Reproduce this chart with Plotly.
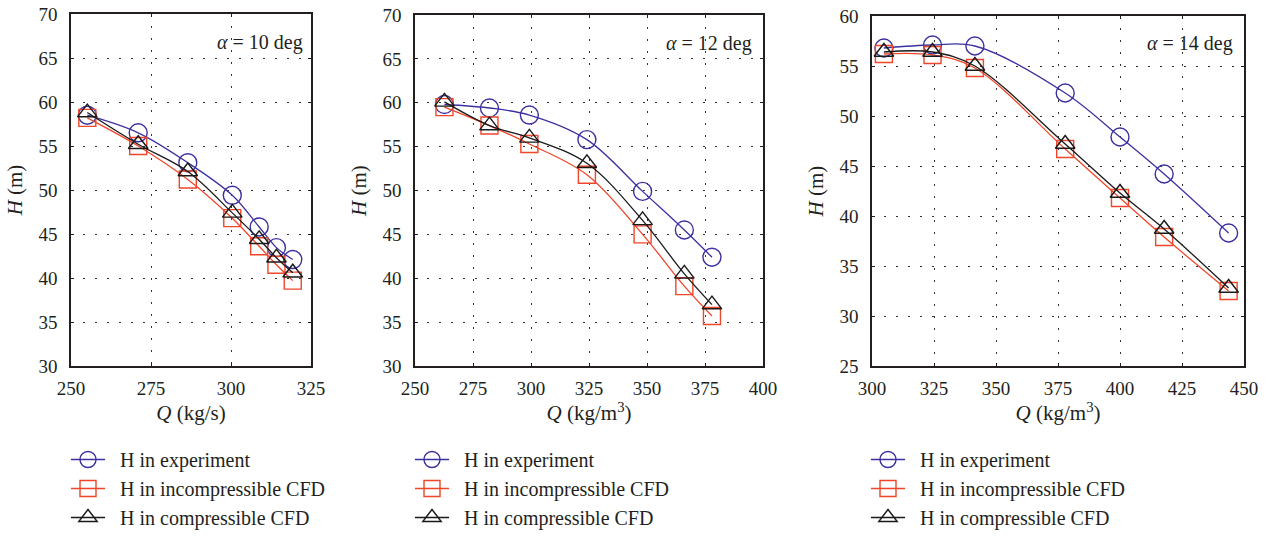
import plotly.graph_objects as go

# Flow rate Q and head H for three inlet guide-vane angles
q_10 = [255.1, 271.0, 286.5, 300.4, 308.8, 314.2, 319.3]
h_10_exp = [58.5, 56.5, 53.1, 49.4, 45.8, 43.45, 42.1]
h_10_inc = [58.2, 55.0, 51.2, 46.8, 43.6, 41.5, 39.7]
h_10_com = [58.8, 55.2, 52.1, 47.4, 44.4, 42.3, 40.6]

q_12 = [262.7, 282.1, 299.3, 324.1, 348.1, 366.1, 378.0]
h_12_exp = [59.8, 59.4, 58.6, 55.8, 49.9, 45.5, 42.4]
h_12_inc = [59.5, 57.4, 55.3, 51.8, 45.0, 39.1, 35.7]
h_12_com = [60.1, 57.4, 56.0, 53.1, 46.6, 40.5, 37.0]

q_14 = [304.8, 324.4, 341.5, 377.9, 400.0, 417.8, 443.8]
h_14_exp = [56.8, 57.1, 57.0, 52.3, 47.9, 44.2, 38.3]
h_14_inc = [56.2, 56.1, 54.8, 46.7, 41.8, 37.9, 32.5]
h_14_com = [56.4, 56.4, 55.0, 47.2, 42.3, 38.7, 32.8]

angles = ["10", "12", "14"]
series_names = ["H in experiment", "H in incompressible CFD", "H in compressible CFD"]
x_titles = ["<i>Q</i> (kg/s)", "<i>Q</i> (kg/m<sup>3</sup>)", "<i>Q</i> (kg/m<sup>3</sup>)"]
x_ranges = [[250, 325], [250, 400], [300, 450]]
y_ranges = [[30, 70], [30, 70], [25, 60]]

W, H = 1269, 537
FONT = "Liberation Serif, Times New Roman, serif"
INK = "#231f20"
BLUE = "#3b31a0"
RED = "#f0462a"
BLACK = "#1a1a1a"
GRID = "#333333"
GRID_DASH = "2px,10px"

styles = [
    dict(color=BLUE, symbol="circle-open", size=18),
    dict(color=RED, symbol="square-open", size=17),
    dict(color=BLACK, symbol="triangle-up-open", size=17),
]

data = [
    (q_10, [h_10_exp, h_10_inc, h_10_com]),
    (q_12, [h_12_exp, h_12_inc, h_12_com]),
    (q_14, [h_14_exp, h_14_inc, h_14_com]),
]

# plot-area boxes in pixels: (left, right, top, bottom)
boxes = [(71, 311, 14, 366), (415, 763, 15, 366), (872, 1244, 16, 366)]
legend_left = [66, 410, 866]

fig = go.Figure()
layout = {}
for i, ((q, heads), box) in enumerate(zip(data, boxes)):
    n = "" if i == 0 else str(i + 1)
    leg = "legend" + n
    for j, (h, st) in enumerate(zip(heads, styles)):
        fig.add_trace(go.Scatter(
            x=q, y=h, mode="lines+markers", name="\u00a0\u00a0" + series_names[j],
            xaxis="x" + n, yaxis="y" + n, legend=leg,
            legendgroup=f"g{i}{j}",
            line=dict(color=st["color"], width=1.3, shape="spline", smoothing=1.0),
            marker=dict(symbol=st["symbol"], size=st["size"], color=st["color"],
                        line=dict(width=1.4, color=st["color"])),
        ))
    l, r, t, b = box
    layout["xaxis" + n] = dict(
        domain=[l / W, r / W], anchor="y" + n, range=x_ranges[i],
        dtick=25, tick0=0, showgrid=True, gridcolor=GRID, griddash=GRID_DASH, gridwidth=1.3,
        zeroline=False, showline=True, linecolor=INK, linewidth=1.5, mirror="ticks",
        ticks="inside", ticklen=3, tickcolor=INK, ticklabelstandoff=4,
        tickfont=dict(family=FONT, size=19, color=INK),
        title=dict(text=x_titles[i], font=dict(family=FONT, size=21, color=INK), standoff=8),
        automargin=False,
    )
    layout["yaxis" + n] = dict(
        domain=[1 - b / H, 1 - t / H], anchor="x" + n, range=y_ranges[i],
        dtick=5, showgrid=True, gridcolor=GRID, griddash=GRID_DASH, gridwidth=1.3,
        zeroline=False, showline=True, linecolor=INK, linewidth=1.5, mirror="ticks",
        ticks="inside", ticklen=3, tickcolor=INK, ticklabelstandoff=8,
        tickfont=dict(family=FONT, size=19, color=INK),
        title=dict(text="<i>H</i> (m)", font=dict(family=FONT, size=21, color=INK), standoff=10),
        automargin=False,
    )
    layout[leg] = dict(
        x=legend_left[i] / W, xanchor="left", y=1 - 440 / H, yanchor="top",
        bgcolor="rgba(0,0,0,0)", borderwidth=0, tracegroupgap=0,
        traceorder="grouped", itemwidth=34,
        font=dict(family=FONT, size=20, color=INK),
    )
    fig.add_annotation(
        xref=("x" + n) + " domain", yref=("y" + n) + " domain",
        x=0.975, y=0.92, xanchor="right", yanchor="middle", showarrow=False,
        text=f"<i>α</i> = {angles[i]} deg",
        font=dict(family=FONT, size=20, color=INK),
    )

fig.update_layout(
    width=W, height=H, margin=dict(l=0, r=0, t=0, b=0),
    paper_bgcolor="white", plot_bgcolor="white", showlegend=True,
    **layout,
)

fig.write_html("out.html")
